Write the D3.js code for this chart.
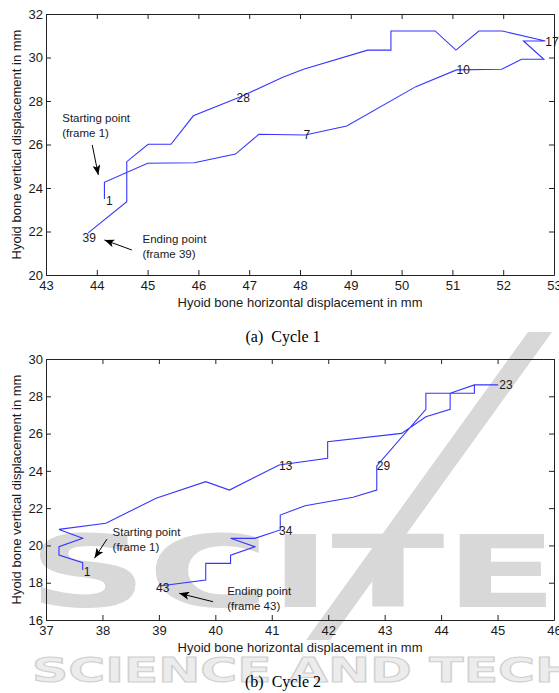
<!DOCTYPE html>
<html>
<head>
<meta charset="utf-8">
<script src="https://cdn.jsdelivr.net/npm/d3@7"></script>
<style>
body { margin: 0; background: #fff; }
svg text { font-family: "Liberation Sans", Arial, sans-serif; fill: #1a1a1a; }
</style>
</head>
<body>
<svg id="chart" width="559" height="693"></svg>
<script>
// Cycle 1 : hyoid bone path (mm), one vertex per change of direction
const cycle1X = [44.15, 44.15, 45.00, 45.92, 46.73, 47.19, 48.10, 48.92, 50.28, 51.08, 51.97, 52.36, 52.80, 52.40, 52.83,
                 51.98, 51.52, 51.07, 50.66, 49.79, 49.79, 49.33, 48.07, 47.65, 46.82, 45.90, 45.46, 45.01, 44.59, 44.59, 43.83];
const cycle1Y = [23.50, 24.26, 25.14, 25.16, 25.56, 26.47, 26.44, 26.85, 28.66, 29.43, 29.46, 29.92, 29.92, 30.76, 30.76,
                 31.22, 31.22, 30.34, 31.22, 31.22, 30.34, 30.34, 29.46, 29.08, 28.18, 27.32, 26.01, 26.01, 25.21, 23.37, 21.94];
const cycle1Frames = [1, 7, 10, 17, 28, 39];
const cycle1FrameX = [44.18, 48.07, 51.08, 52.83, 46.75, 43.72];
const cycle1FrameY = [23.42, 26.44, 29.43, 30.73, 28.17, 21.69];
const cycle1XTicks = [43, 44, 45, 46, 47, 48, 49, 50, 51, 52, 53];
const cycle1YTicks = [20, 22, 24, 26, 28, 30, 32];
const cycle1Notes = [["Starting point", "(frame 1)"], ["Ending point", "(frame 39)"]];
const cycle1NoteX = [43.32, 44.90];
const cycle1NoteY = [27.20, 21.64];
const cycle1ArrowFrom = [[43.91, 25.98], [44.69, 21.15]];
const cycle1ArrowTo = [[44.03, 24.60], [44.15, 21.61]];

// Cycle 2
const cycle2X = [37.65, 37.65, 37.23, 37.23, 37.65, 37.23, 38.06, 38.95, 39.83, 40.25, 41.13, 41.99, 41.99, 43.30, 43.73,
                 44.16, 44.16, 44.59, 44.59, 45.01, 44.59, 44.16, 43.73, 43.73, 42.86, 42.86, 42.44, 41.59, 41.15, 41.15,
                 40.70, 40.27, 40.70, 40.27, 40.27, 39.83, 39.83, 39.01];
const cycle2Y = [18.68, 19.07, 19.48, 19.93, 20.38, 20.86, 21.19, 22.53, 23.42, 22.97, 24.31, 24.67, 25.56, 26.01, 26.90,
                 27.30, 28.16, 28.16, 28.61, 28.61, 28.61, 28.16, 28.16, 27.30, 24.26, 22.97, 22.58, 22.13, 21.63, 20.83,
                 20.38, 20.38, 19.93, 19.48, 19.04, 19.04, 18.14, 17.82];
const cycle2Frames = [1, 13, 23, 29, 34, 43];
const cycle2FrameX = [37.67, 41.13, 45.03, 42.86, 41.13, 38.95];
const cycle2FrameY = [18.59, 24.29, 28.61, 24.26, 20.80, 17.71];
const cycle2XTicks = [37, 38, 39, 40, 41, 42, 43, 44, 45, 46];
const cycle2YTicks = [16, 18, 20, 22, 24, 26, 28, 30];
const cycle2Notes = [["Starting point", "(frame 1)"], ["Ending point", "(frame 43)"]];
const cycle2NoteX = [38.18, 40.21];
const cycle2NoteY = [20.70, 17.55];
const cycle2ArrowFrom = [[38.08, 20.34], [39.96, 16.98]];
const cycle2ArrowTo = [[37.86, 19.32], [39.36, 17.43]];

const xTitle = "Hyoid bone horizontal displacement in mm";
const yTitle = "Hyoid bone vertical displacement in mm";

const svg = d3.select("#chart");

svg.append("defs").append("marker")
    .attr("id", "head")
    .attr("markerUnits", "userSpaceOnUse")
    .attr("markerWidth", 11)
    .attr("markerHeight", 8)
    .attr("refX", 10)
    .attr("refY", 4)
    .attr("orient", "auto")
    .append("path")
    .attr("d", "M0,0 L10,4 L0,8 L2.5,4 z")
    .style("fill", "#000");

/* The publisher watermark sits behind the second figure. */
function drawWatermark() {
    const g = svg.append("g").attr("class", "watermark");
    g.append("path")
        .attr("d", "M528,332 L552,332 L330,640 L306,640 z")
        .style("fill", "#d8d8d8");
    g.append("text")
        .attr("x", 28).attr("y", 607)
        .attr("textLength", 530).attr("lengthAdjust", "spacingAndGlyphs")
        .style("font-family", "DejaVu Sans").style("font-weight", "bold")
        .style("font-size", "100px").style("fill", "#d8d8d8")
        .text("SCITE");
    g.append("text")
        .attr("x", 32).attr("y", 682)
        .attr("textLength", 545).attr("lengthAdjust", "spacingAndGlyphs")
        .style("font-family", "DejaVu Sans").style("font-weight", "bold")
        .style("font-size", "34px").style("fill", "#ececec").style("stroke", "#cfcfcf").style("stroke-width", 1)
        .text("SCIENCE AND TECH");
}

/* One MATLAB style panel: boxed axes with inward ticks, the blue path, frame numbers and the arrows. */
function createCyclePlot(p) {
    const x = d3.scaleLinear().domain(d3.extent(p.xTicks)).range([p.left, p.right]);
    const y = d3.scaleLinear().domain(d3.extent(p.yTicks)).range([p.bottom, p.top]);
    const g = svg.append("g");

    g.append("g").attr("transform", `translate(0,${p.bottom})`)
        .call(d3.axisBottom(x).tickValues(p.xTicks).tickFormat(d3.format("d")).tickSize(-5).tickSizeOuter(0).tickPadding(6));
    g.append("g").attr("transform", `translate(${p.left},0)`)
        .call(d3.axisLeft(y).tickValues(p.yTicks).tickFormat(d3.format("d")).tickSize(-5).tickSizeOuter(0).tickPadding(3));
    g.append("g").attr("transform", `translate(0,${p.top})`)
        .call(d3.axisTop(x).tickValues(p.xTicks).tickFormat("").tickSize(-5).tickSizeOuter(0));
    g.append("g").attr("transform", `translate(${p.right},0)`)
        .call(d3.axisRight(y).tickValues(p.yTicks).tickFormat("").tickSize(-5).tickSizeOuter(0));

    g.selectAll(".domain, .tick line").style("stroke", "#222");
    g.selectAll(".tick text").style("font-size", "13px").style("fill", "#1a1a1a").style("font-family", "Liberation Sans");

    const line = d3.line().x(d => x(d[0])).y(d => y(d[1]));
    g.append("path")
        .datum(d3.zip(p.xs, p.ys))
        .attr("d", line)
        .style("fill", "none")
        .style("stroke", "#3535ff")
        .style("stroke-width", 1.1);

    g.selectAll(".frame")
        .data(p.frames)
        .enter().append("text")
        .attr("class", "frame")
        .attr("x", (d, i) => x(p.frameX[i]))
        .attr("y", (d, i) => y(p.frameY[i]))
        .attr("dy", "0.35em")
        .style("font-size", "12px")
        .text(d => d);

    p.notes.forEach((lines, i) => {
        const t = g.append("text")
            .attr("x", x(p.noteX[i]))
            .attr("y", y(p.noteY[i]))
            .style("font-size", "11.5px");
        lines.forEach((s, j) => {
            t.append("tspan").attr("x", x(p.noteX[i])).attr("dy", j == 0 ? "0.35em" : "15px").text(s);
        });
        g.append("line")
            .attr("x1", x(p.arrowFrom[i][0])).attr("y1", y(p.arrowFrom[i][1]))
            .attr("x2", x(p.arrowTo[i][0])).attr("y2", y(p.arrowTo[i][1]))
            .style("stroke", "#000").style("stroke-width", 1)
            .attr("marker-end", "url(#head)");
    });

    g.append("text")
        .attr("x", (p.left + p.right) / 2)
        .attr("y", p.bottom + 32)
        .attr("text-anchor", "middle")
        .style("font-size", "13px")
        .text(xTitle);

    g.append("text")
        .attr("transform", `translate(21,${(p.top + p.bottom) / 2}) rotate(-90)`)
        .attr("text-anchor", "middle")
        .style("font-size", "13px")
        .text(yTitle);

    g.append("text")
        .attr("x", 283)
        .attr("y", p.captionY)
        .attr("text-anchor", "middle")
        .style("font-family", "Liberation Serif")
        .style("font-size", "16px")
        .style("fill", "#000")
        .text(p.caption);
}

drawWatermark();

createCyclePlot({
    left: 46, right: 554, top: 14, bottom: 275,
    xTicks: cycle1XTicks, yTicks: cycle1YTicks,
    xs: cycle1X, ys: cycle1Y,
    frames: cycle1Frames, frameX: cycle1FrameX, frameY: cycle1FrameY,
    notes: cycle1Notes, noteX: cycle1NoteX, noteY: cycle1NoteY,
    arrowFrom: cycle1ArrowFrom, arrowTo: cycle1ArrowTo,
    caption: "(a)\u00a0\u00a0Cycle 1", captionY: 342
});

createCyclePlot({
    left: 46, right: 554, top: 359, bottom: 620,
    xTicks: cycle2XTicks, yTicks: cycle2YTicks,
    xs: cycle2X, ys: cycle2Y,
    frames: cycle2Frames, frameX: cycle2FrameX, frameY: cycle2FrameY,
    notes: cycle2Notes, noteX: cycle2NoteX, noteY: cycle2NoteY,
    arrowFrom: cycle2ArrowFrom, arrowTo: cycle2ArrowTo,
    caption: "(b)\u00a0\u00a0Cycle 2", captionY: 687
});
</script>
</body>
</html>
